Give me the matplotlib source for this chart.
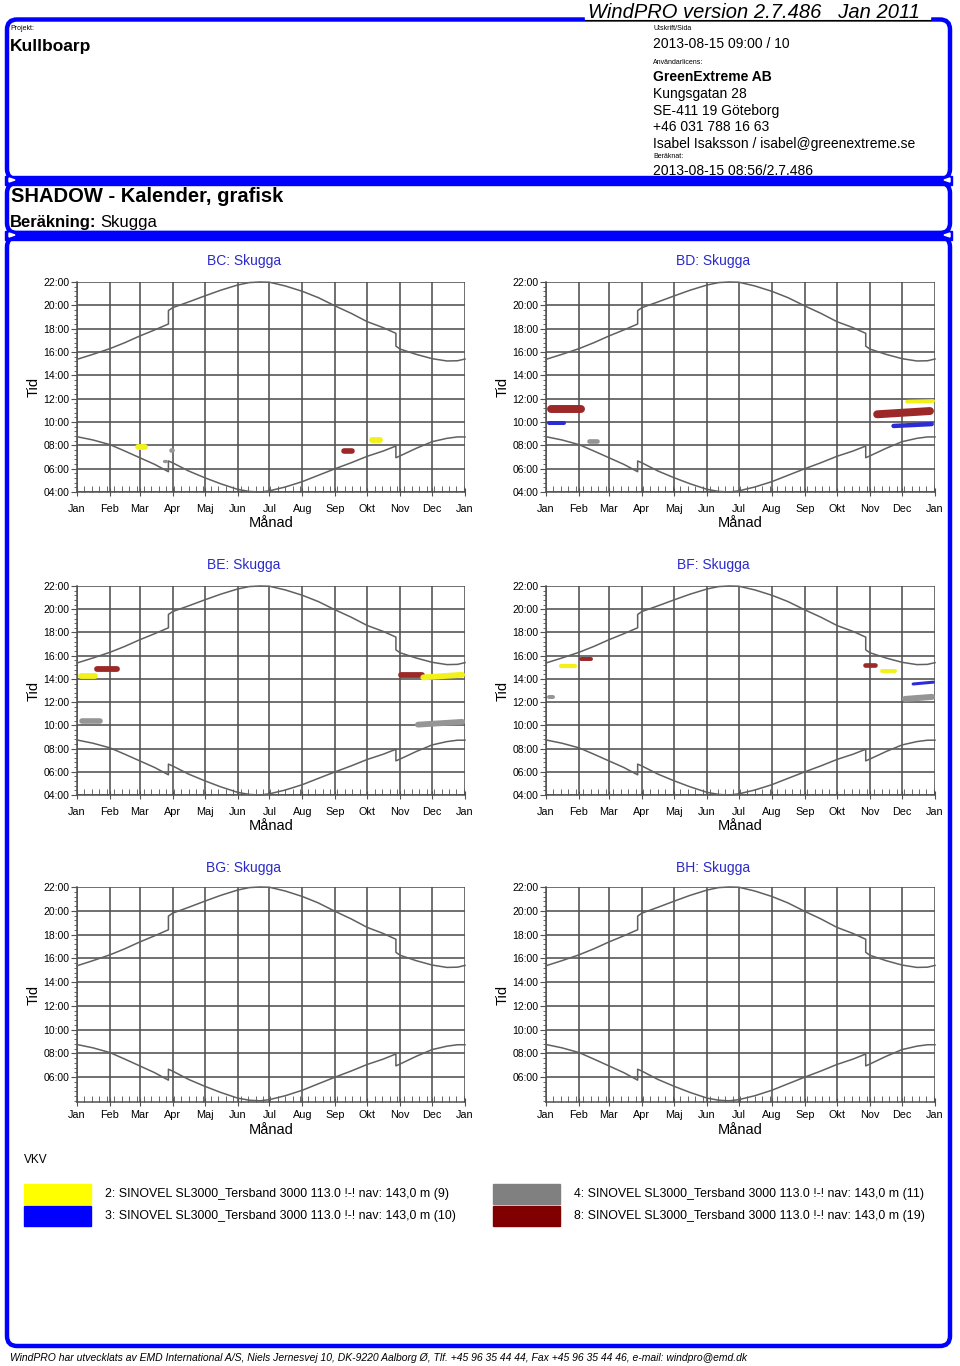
import matplotlib
matplotlib.use("Agg")
import matplotlib.pyplot as plt
from matplotlib.patches import FancyBboxPatch, Rectangle, Polygon
from matplotlib.ticker import FixedLocator, MultipleLocator

plt.rcParams['font.family'] = ['Liberation Sans', 'DejaVu Sans']

W, H = 960, 1366

# ---------------- data ----------------
month_days = [0, 31, 59, 90, 120, 151, 181, 212, 243, 273, 304, 334, 365]
month_labels = ['Jan', 'Feb', 'Mar', 'Apr', 'Maj', 'Jun', 'Jul', 'Aug', 'Sep', 'Okt', 'Nov', 'Dec', 'Jan']
hour_ticks = [4, 6, 8, 10, 12, 14, 16, 18, 20, 22]

# sun curves (day of year, hour), DST jumps at day 86 and day 300
sun_days = [0, 15, 31, 45, 59, 73, 86, 86, 90, 105, 120, 135, 151, 162, 172, 181, 196,
            212, 227, 243, 258, 273, 288, 300, 300, 304, 319, 334, 348, 358, 365]
sunset = [15.37, 15.8, 16.29, 16.8, 17.37, 17.89, 18.4, 19.55, 19.8, 20.29, 20.8, 21.29,
          21.74, 21.95, 22.0, 21.98, 21.66, 21.2, 20.66, 19.94, 19.31, 18.6, 18.09, 17.6,
          16.5, 16.25, 15.8, 15.43, 15.23, 15.25, 15.4]
sunrise = [8.74, 8.46, 8.06, 7.51, 6.94, 6.37, 5.74, 6.66, 6.5, 5.8, 5.23, 4.71, 4.23,
           4.05, 4.0, 4.1, 4.43, 4.89, 5.43, 6.0, 6.51, 7.06, 7.51, 7.94, 6.94, 7.1, 7.74,
           8.31, 8.6, 8.72, 8.72]

turbine_labels = [
    '2: SINOVEL SL3000_Tersband 3000 113.0 !-! nav: 143,0 m (9)',
    '3: SINOVEL SL3000_Tersband 3000 113.0 !-! nav: 143,0 m (10)',
    '4: SINOVEL SL3000_Tersband 3000 113.0 !-! nav: 143,0 m (11)',
    '8: SINOVEL SL3000_Tersband 3000 113.0 !-! nav: 143,0 m (19)',
]
turbine_colors = ['#ffff00', '#0000ff', '#808080', '#800000']
blob_colors = ['#f2f21a', '#2b2bd8', '#959595', '#9c2828']

panel_names = ['BC: Skugga', 'BD: Skugga', 'BE: Skugga', 'BF: Skugga', 'BG: Skugga', 'BH: Skugga']

# shadow periods: start day, end day, start hour, end hour, half height (h), turbine index
bc_day0 = [55, 86, 80, 249, 275]
bc_day1 = [67, 92, 85, 261, 288]
bc_t0 = [7.89, 7.6, 6.69, 7.49, 8.46]
bc_t1 = [7.89, 7.6, 6.69, 7.49, 8.46]
bc_h = [0.25, 0.2, 0.14, 0.24, 0.25]
bc_turb = [0, 2, 2, 3, 0]

bd_day0 = [1, 1, 38, 292, 307, 337, 324]
bd_day1 = [37, 19, 50, 294, 364, 365, 364]
bd_t0 = [11.09, 9.89, 8.37, 8.86, 10.66, 11.74, 9.66]
bd_t1 = [11.09, 9.89, 8.37, 8.86, 10.94, 11.8, 9.82]
bd_h = [0.34, 0.17, 0.2, 0.12, 0.34, 0.16, 0.19]
bd_turb = [3, 1, 2, 2, 3, 0, 1]

be_day0 = [1, 16, 2, 302, 323, 318]
be_day1 = [20, 40, 24, 327, 365, 365]
be_t0 = [14.28, 14.82, 10.37, 14.36, 14.13, 10.06]
be_t1 = [14.28, 14.82, 10.37, 14.36, 14.35, 10.3]
be_h = [0.25, 0.25, 0.24, 0.25, 0.25, 0.25]
be_turb = [0, 3, 2, 3, 0, 2]

bf_day0 = [1, 12, 31, 297, 313, 343, 334]
bf_day1 = [8, 29, 44, 311, 329, 365, 365]
bf_t0 = [12.41, 15.14, 15.71, 15.22, 14.71, 13.56, 12.27]
bf_t1 = [12.41, 15.14, 15.71, 15.22, 14.71, 13.72, 12.45]
bf_h = [0.17, 0.18, 0.17, 0.2, 0.17, 0.13, 0.26]
bf_turb = [2, 0, 3, 3, 0, 1, 2]

bg_day0, bg_day1, bg_t0, bg_t1, bg_h, bg_turb = [], [], [], [], [], []
bh_day0, bh_day1, bh_t0, bh_t1, bh_h, bh_turb = [], [], [], [], [], []

panel_shadows = [
    (bc_day0, bc_day1, bc_t0, bc_t1, bc_h, bc_turb),
    (bd_day0, bd_day1, bd_t0, bd_t1, bd_h, bd_turb),
    (be_day0, be_day1, be_t0, be_t1, be_h, be_turb),
    (bf_day0, bf_day1, bf_t0, bf_t1, bf_h, bf_turb),
    (bg_day0, bg_day1, bg_t0, bg_t1, bg_h, bg_turb),
    (bh_day0, bh_day1, bh_t0, bh_t1, bh_h, bh_turb),
]

# ---------------- figure ----------------
fig = plt.figure(figsize=(W / 100, H / 100), dpi=100)
fig.patch.set_facecolor('white')

ov = fig.add_axes([0, 0, 1, 1], zorder=0)
ov.set_xlim(0, W)
ov.set_ylim(H, 0)
ov.axis('off')

BLUE = '#0000ff'
LWF = 3.2  # frame line width in points

def rbox(x0, y0, x1, y1, r=10, z=5):
    p = FancyBboxPatch((x0, y0), x1 - x0, y1 - y0,
                       boxstyle=f"round,pad=0,rounding_size={r}",
                       linewidth=LWF, edgecolor=BLUE, facecolor='none', zorder=z)
    ov.add_patch(p)

rbox(7, 19.5, 950, 179)
rbox(7, 183, 950, 233)
rbox(7, 237, 950, 1346)
ov.add_patch(Rectangle((5, 175.5), 947, 9, color=BLUE, zorder=6))
ov.add_patch(Rectangle((5, 230.5), 947, 9, color=BLUE, zorder=6))
for yy in (180, 235):
    ov.add_patch(Polygon([(9, yy - 2), (9, yy + 2), (15, yy)], closed=True, color='white', zorder=7))
    ov.add_patch(Polygon([(950, yy - 2), (950, yy + 2), (944, yy)], closed=True, color='white', zorder=7))

# top version stamp
ov.add_patch(Rectangle((585, 0), 345, 19, color='white', zorder=8))
ov.plot([585, 930], [19.5, 19.5], color='black', lw=0.8, zorder=9)
ov.text(588, 18, 'WindPRO version 2.7.486   Jan 2011', fontsize=14.5, style='italic',
        va='baseline', ha='left', zorder=10)

def t(x, y, s, fs, bold=False, ha='left', color='black', style='normal', z=3):
    return ov.text(x, y, s, fontsize=fs, fontweight='bold' if bold else 'normal',
                   ha=ha, va='center', color=color, style=style, zorder=z)

t(10, 29, 'Projekt:', 5)
t(10, 47, 'Kullboarp', 12.5, bold=True)
t(653, 29, 'Utskrift/Sida', 5)
t(653, 44, '2013-08-15 09:00 / 10', 10)
t(653, 62, 'Användarlicens:', 5)
t(653, 77, 'GreenExtreme AB', 10, bold=True)
t(653, 94, 'Kungsgatan 28', 10)
t(653, 111, 'SE-411 19 Göteborg', 10)
t(653, 127, '+46 031 788 16 63', 10)
t(653, 144, 'Isabel Isaksson / isabel@greenextreme.se', 10)
t(653, 156, 'Beräknat:', 5)
t(653, 171, '2013-08-15 08:56/2.7.486', 10)

t(11, 197, 'SHADOW - Kalender, grafisk', 14.5, bold=True)
b1 = t(10, 223, 'Beräkning:', 12, bold=True)
fig.canvas.draw()
ext = b1.get_window_extent()
t(ext.x1 + 4, 223, 'Skugga', 12)

# ---------------- panels ----------------
col_x = [(77, 465), (546, 935)]
row_y = [(282, 492), (586, 795), (887, 1102)]
title_y = [261, 565, 868]
xlab_y = [523, 826, 1130]
xtick_pad = [5.5, 5.5, 3.0]
GRID = '#505050'
CURVE = '#606060'

for i in range(6):
    r, c = divmod(i, 2)
    x0, x1 = col_x[c]
    y0, y1 = row_y[r]
    ax = fig.add_axes([x0 / W, 1 - y1 / H, (x1 - x0) / W, (y1 - y0) / H], zorder=2)
    ax.set_facecolor('none')
    ax.set_xlim(0, 365)
    if r < 2:
        ax.set_ylim(4, 22)
        yt = hour_ticks
    else:
        ax.set_ylim(3.9, 22)
        yt = hour_ticks[1:]
    ax.yaxis.set_major_locator(FixedLocator(yt))
    ax.set_yticklabels([f'{h:02d}:00' for h in yt], fontsize=7.5)
    ax.yaxis.set_minor_locator(MultipleLocator(0.4))
    ax.xaxis.set_major_locator(FixedLocator(month_days))
    ax.set_xticklabels(month_labels, fontsize=7.8)
    ax.xaxis.set_minor_locator(MultipleLocator(7))
    ax.tick_params(axis='y', which='major', direction='out', length=4, width=0.8,
                   color=GRID, pad=1.5)
    ax.tick_params(axis='y', which='minor', direction='out', length=2.5, width=0.6, color=GRID)
    ax.tick_params(axis='x', which='major', direction='inout', length=6, width=0.8,
                   color=GRID, pad=xtick_pad[r])
    ax.tick_params(axis='x', which='minor', direction='in', length=4, width=0.6, color=GRID)
    for s in ('top', 'right'):
        ax.spines[s].set_visible(False)
    for s in ('left', 'bottom'):
        ax.spines[s].set_color(GRID)
        ax.spines[s].set_linewidth(1.1)
    ax.grid(True, which='major', color=GRID, lw=1.15)
    ax.set_axisbelow(True)

    ax.plot(sun_days, sunset, color=CURVE, lw=1.1, zorder=3, clip_on=False)
    ax.plot(sun_days, sunrise, color=CURVE, lw=1.1, zorder=3, clip_on=False)

    px_per_hour = (y1 - y0) / (ax.get_ylim()[1] - ax.get_ylim()[0])
    px_per_day = (x1 - x0) / 365.0
    d0s, d1s, t0s, t1s, hs, tbs = panel_shadows[i]
    for d0, d1, ta, tb, hh, tk in zip(d0s, d1s, t0s, t1s, hs, tbs):
        rad_days = hh * px_per_hour / px_per_day
        a, b = d0 + rad_days, d1 - rad_days
        if b < a:
            a = b = 0.5 * (d0 + d1)
        lw_pt = 2 * hh * px_per_hour * 72 / 100
        ax.plot([a, b], [ta, tb], color=blob_colors[tk], lw=lw_pt,
                solid_capstyle='round', zorder=4)

    cx = (x0 + x1) / 2
    t(cx - 27, title_y[r], panel_names[i], 10, ha='center', color='#2a2acc')
    t(cx, xlab_y[r], 'Månad', 10.5, ha='center')
    ov.text(x0 - 43, (y0 + y1) / 2, 'Tid', fontsize=10.5, rotation=90,
            ha='center', va='center')

# ---------------- legend ----------------
t(24, 1160, 'VKV', 8.5)
leg_pos = [(24, 1184), (24, 1206), (493, 1184), (493, 1206)]
for k, (lx, ly) in enumerate(leg_pos):
    ov.add_patch(Rectangle((lx, ly), 67, 20, color=turbine_colors[k], zorder=3))
    t(lx + 81, ly + 10.5, turbine_labels[k], 8.9)

# footer
t(10, 1358, 'WindPRO har utvecklats av EMD International A/S, Niels Jernesvej 10, DK-9220 Aalborg Ø, '
  'Tlf. +45 96 35 44 44, Fax +45 96 35 44 46, e-mail: windpro@emd.dk', 7.5, style='italic')

fig.savefig('out.png', dpi=100, facecolor='white')
